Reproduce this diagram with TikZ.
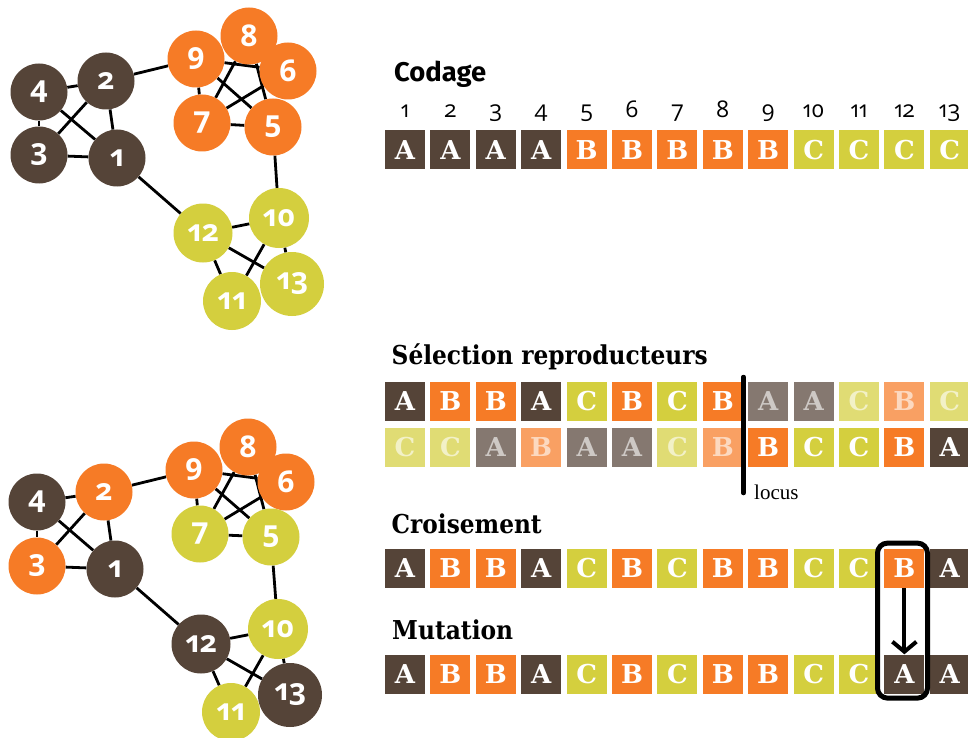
\documentclass[tikz,border=0pt]{standalone}
\usepackage{fontspec}
\usetikzlibrary{arrows.meta}
\newfontfamily\numfont[Numbers=OldStyle]{Open Sans}
\newfontfamily\codfont{Fira Sans}
\newfontfamily\slabfont{DejaVu Serif}
\newfontfamily\locfont{Liberation Serif}
\definecolor{colA}{RGB}{85,68,56}
\definecolor{colB}{RGB}{246,123,38}
\definecolor{colC}{RGB}{212,207,62}
\pgfdeclarelayer{paper}
\pgfdeclarelayer{edges}
\pgfsetlayers{paper,edges,main}
\tikzset{
  gnode/.style={circle, inner sep=0pt, text=white,
    font=\numfont\bfseries\fontsize{30}{30}\selectfont},
  gedge/.style={line width=2.8pt, black},
  sq/.style={rectangle, inner sep=0pt, minimum width=40pt, minimum height=39pt,
    text=white, font=\slabfont\bfseries\fontsize{26}{26}\selectfont},
  idx/.style={anchor=base, inner sep=0pt, font=\numfont\fontsize{23}{23}\selectfont},
  ttl/.style={anchor=base west, inner sep=0pt, font=\slabfont\bfseries\fontsize{26}{26}\selectfont},
  sttl/.style={anchor=base west, inner sep=0pt, font=\codfont\bfseries\fontsize{27}{27}\selectfont},
  loclab/.style={anchor=base west, inner sep=0pt, font=\locfont\fontsize{21}{21}\selectfont},
}
\newcommand\seqrow[3]{%
  \foreach \l/\o/\t [count=\i] in {#3}{%
    \pgfmathsetmacro\xx{405+45.4*(\i-1)}%
    \node[sq, fill=col\l!\o!white, text opacity=\t] (#1\i) at (\xx,#2) {\l};
  }%
}
\begin{document}
\begin{tikzpicture}[x=1pt,y=-1pt]
\begin{pgfonlayer}{paper}
\fill[white] (0,0) rectangle (968,738);
\end{pgfonlayer}
\useasboundingbox (0,0) rectangle (968,738);

% ---- top graph ----
\foreach \n/\px/\py/\c/\s in {8/249/36/colB/57, 9/196/59/colB/57, 6/288/71/colB/57,
  7/202/123/colB/57, 5/273/127/colB/57, 4/39/92/colA/57, 2/106/81/colA/57,
  3/39/155/colA/57, 1/117/158/colA/57, 12/203/233/colC/59, 10/279/218/colC/60,
  13/292/284/colC/64, 11/232/301/colC/58}
  \node[gnode, fill=\c, minimum size=\s pt] (t\n) at (\px,\py) {\n};

% ---- bottom graph ----
\foreach \n/\px/\py/\c/\s in {8/248/447/colB/57, 9/194/470/colB/57, 6/286/482/colB/57,
  7/200/534/colC/57, 5/271/537/colC/57, 4/37/502/colA/57, 2/104/492/colB/57,
  3/37/566/colB/57, 1/115/569/colA/57, 12/201/644/colA/59, 10/278/629/colC/60,
  13/290/695/colA/64, 11/231/712/colC/58}
  \node[gnode, fill=\c, minimum size=\s pt] (b\n) at (\px,\py) {\n};

\begin{pgfonlayer}{edges}
\foreach \a/\b in {4/2,4/3,4/1,2/3,2/1,3/1,2/9,1/12,9/7,9/6,8/7,9/5,7/6,8/5,7/5,
  5/10,12/10,12/13,12/11,10/11,10/13}{
  \draw[gedge] (t\a) -- (t\b);
  \draw[gedge] (b\a) -- (b\b);
}
\end{pgfonlayer}

% ---- titles ----
\node[sttl] (hCod) at (394,82) {\resizebox{92pt}{\height}{Codage}};
\node[ttl] (hSel) at (391.5,364) {\resizebox{316pt}{\height}{Sélection reproducteurs}};
\node[ttl] (hCro) at (391.5,533) {\resizebox{150pt}{\height}{Croisement}};
\node[ttl] (hMut) at (392,639) {\resizebox{121pt}{\height}{Mutation}};

% ---- indices ----
\foreach \i in {1,...,13}{
  \pgfmathsetmacro\xx{405+45.4*(\i-1)}
  \node[idx] (k\i) at (\xx,118) {\i};
}

% ---- sequences ----
\seqrow{c}{150}{A/100/1,A/100/1,A/100/1,A/100/1,B/100/1,B/100/1,B/100/1,B/100/1,B/100/1,C/100/1,C/100/1,C/100/1,C/100/1}
\seqrow{s}{401.5}{A/100/1,B/100/1,B/100/1,A/100/1,C/100/1,B/100/1,C/100/1,B/100/1,A/72/0.6,A/72/0.6,C/72/0.6,B/72/0.6,C/72/0.6}
\seqrow{u}{447}{C/72/0.6,C/72/0.6,A/72/0.6,B/72/0.6,A/72/0.6,A/72/0.6,C/72/0.6,B/72/0.6,B/100/1,C/100/1,C/100/1,B/100/1,A/100/1}
\seqrow{r}{568.5}{A/100/1,B/100/1,B/100/1,A/100/1,C/100/1,B/100/1,C/100/1,B/100/1,B/100/1,C/100/1,C/100/1,B/100/1,A/100/1}
\seqrow{m}{674}{A/100/1,B/100/1,B/100/1,A/100/1,C/100/1,B/100/1,C/100/1,B/100/1,B/100/1,C/100/1,C/100/1,A/100/1,A/100/1}

% ---- locus ----
\coordinate (locTop) at (743.5,377);
\coordinate (locBot) at (743.5,493);
\draw[line width=4.5pt, line cap=round] (locTop) -- (locBot);
\node[loclab] (locus) at (754,499.5) {locus};

% ---- mutation box and arrow ----
\node[draw, line width=5pt, rounded corners=10pt, minimum width=50pt,
  minimum height=155pt, inner sep=0pt] (mbox) at (902.5,620.6) {};
\draw[line width=4pt, -{Straight Barb[length=10pt,width=24pt]}] (r12.south) -- (m12.north);
\end{tikzpicture}
\end{document}
